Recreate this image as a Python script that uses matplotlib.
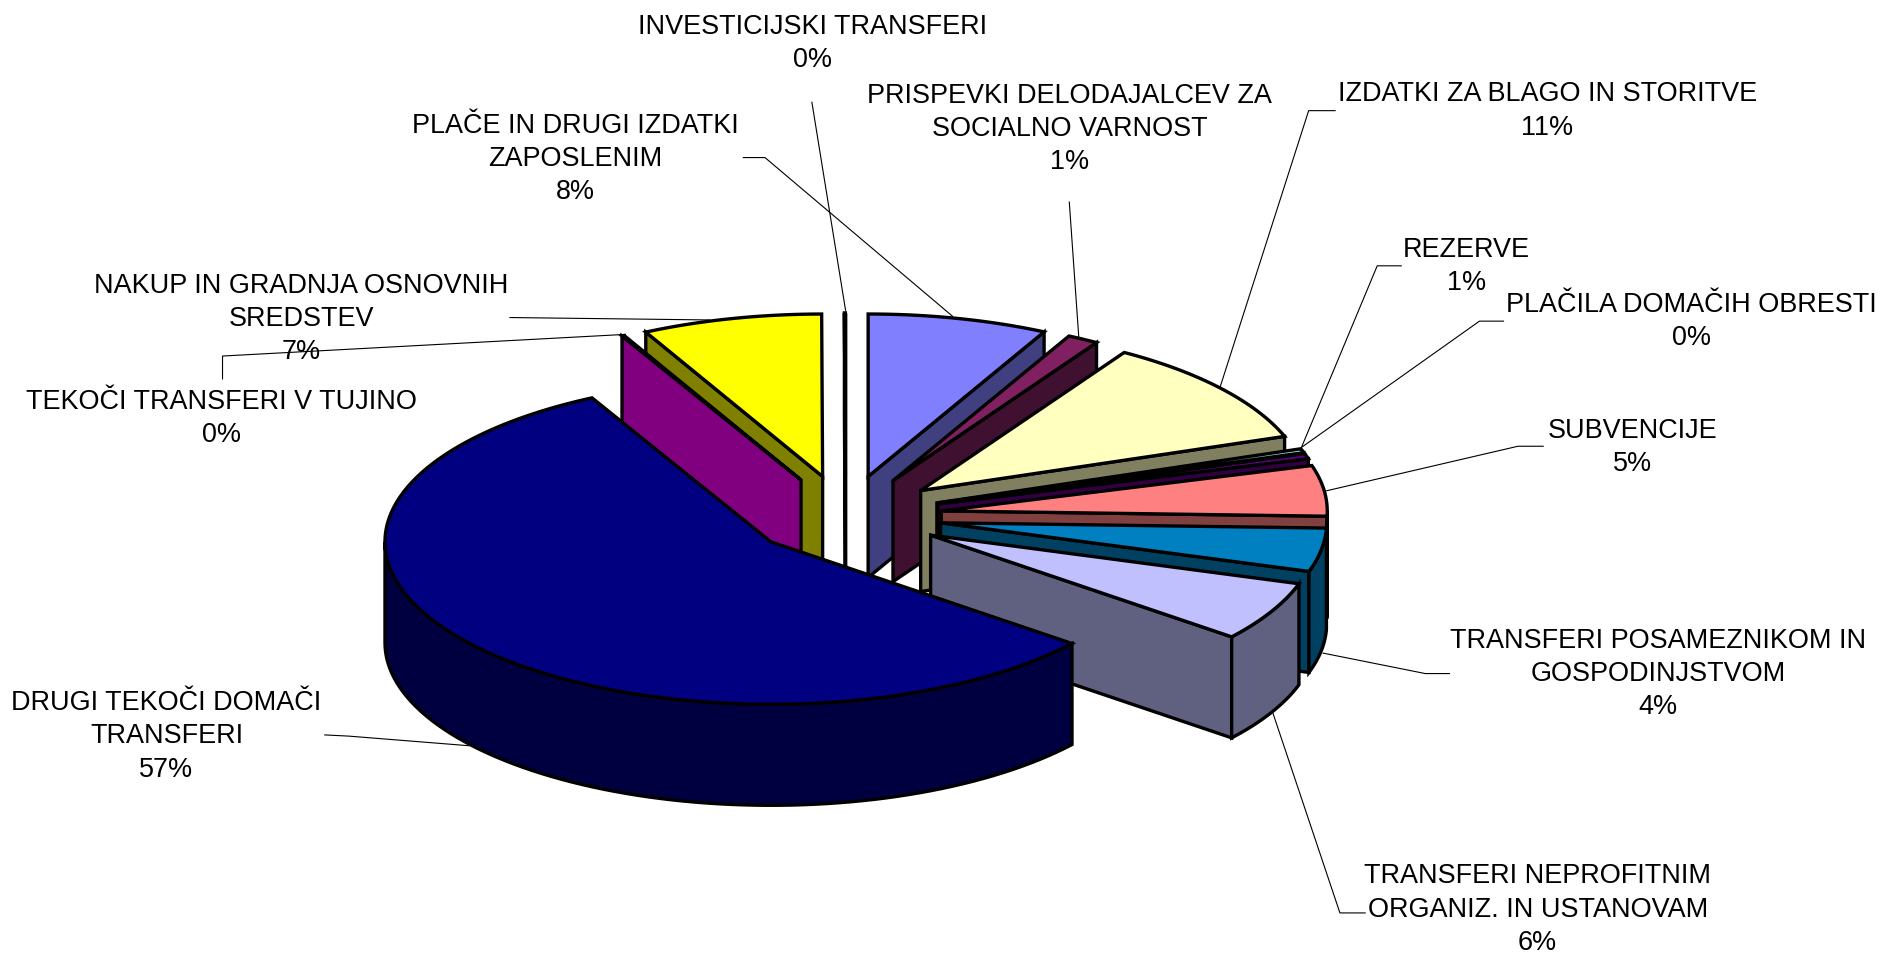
import numpy as np
import matplotlib
matplotlib.use("Agg")
import matplotlib.pyplot as plt
from matplotlib.patches import Polygon

plt.rcParams['font.family'] = ['Liberation Sans', 'DejaVu Sans']

labels = ["PLAČE IN DRUGI IZDATKI\nZAPOSLENIM\n8%",
          "PRISPEVKI DELODAJALCEV ZA\nSOCIALNO VARNOST\n1%",
          "IZDATKI ZA BLAGO IN STORITVE\n11%",
          "REZERVE\n1%",
          "PLAČILA DOMAČIH OBRESTI\n0%",
          "SUBVENCIJE\n5%",
          "TRANSFERI POSAMEZNIKOM IN\nGOSPODINJSTVOM\n4%",
          "TRANSFERI NEPROFITNIM\nORGANIZ. IN USTANOVAM\n6%",
          "DRUGI TEKOČI DOMAČI\nTRANSFERI\n57%",
          "TEKOČI TRANSFERI V TUJINO\n0%",
          "NAKUP IN GRADNJA OSNOVNIH\nSREDSTEV\n7%",
          "INVESTICIJSKI TRANSFERI\n0%"]
values = [7.5, 1.3, 10.7, 0.4, 0.5, 5.0, 4.3, 5.9, 56.3, 0.1, 7.5, 0.04]
top_colors = ["#8080FF", "#802060", "#FFFFC0", "#A0E0E0", "#600080", "#FF8080",
              "#0080C0", "#C0C0FF", "#000080", "#FF00FF", "#FFFF00", "#00FFFF"]
side_colors = ["#404080", "#401030", "#808060", "#507070", "#300040", "#804040",
               "#004060", "#606080", "#000040", "#800080", "#808000", "#008080"]

# layout (figure pixels)
S = 1886 / 1568
CX, CY, RX, RY, DEPTH, EXPLODE = 845.5, 516, 386, 162.5, 101, 0.25
LW = 2.4

label_pos = [(478, 131), (889, 106), (1286, 91), (1219, 220), (1406, 266), (1357, 371),
             (1378, 559), (1278, 755), (138, 611), (184, 347), (250, 264), (675, 35)]
leaders = [[(618, 131), (636, 131), (792, 263)],
           [(889, 168), (897, 282)],
           [(1110, 92), (1088, 92), (1014, 323)],
           [(1165, 221), (1145, 221), (1082, 372)],
           [(1250, 267), (1230, 267), (1082, 372)],
           [(1283, 371), (1262, 371), (1103, 408)],
           [(1205, 560), (1185, 560), (1100, 543)],
           [(1135, 759), (1114, 759), (1058, 592)],
           [(270, 611), (290, 612), (390, 620)],
           [(185, 315), (185, 296), (520, 278)],
           [(424, 264), (590, 266)],
           [(675, 85), (703, 258)]]
draw_order = [11, 10, 9, 0, 1, 2, 3, 4, 5, 6, 7, 8]

fig = plt.figure(figsize=(18.86, 9.56), dpi=100, facecolor="white")
ax = fig.add_axes([0, 0, 1, 1])
ax.set_xlim(0, 1886)
ax.set_ylim(956, 0)
ax.axis("off")

vals = np.array(values, float)
edges = np.concatenate([[0], np.cumsum(vals)]) / vals.sum() * 2 * np.pi


def pt(t, ox, oy, dz=0.0):
    return np.column_stack([ox + RX * np.sin(t), oy - RY * np.cos(t) + dz])


def face(xy, color, z):
    ax.add_patch(Polygon(xy, closed=True, facecolor=color, edgecolor="black",
                         linewidth=LW, joinstyle="miter", zorder=z))


for rank, i in enumerate(draw_order):
    t0, t1 = edges[i], edges[i + 1]
    tm = (t0 + t1) / 2
    ox = CX + EXPLODE * RX * np.sin(tm)
    oy = CY - EXPLODE * RY * np.cos(tm)
    z = 2 + rank
    apex = np.array([[ox, oy]])
    apex_low = np.array([[ox, oy + DEPTH]])
    for t, visible in ((t0, np.sin(t0) < 0), (t1, np.sin(t1) > 0)):
        if visible:
            a = pt(np.array([t]), ox, oy)
            b = pt(np.array([t]), ox, oy, DEPTH)
            face(np.vstack([apex, a, b, apex_low]), side_colors[i], z)
    lo, hi = max(t0, np.pi / 2), min(t1, 3 * np.pi / 2)
    if hi > lo:
        arc = np.linspace(lo, hi, 80)
        face(np.vstack([pt(arc, ox, oy), pt(arc[::-1], ox, oy, DEPTH)]), side_colors[i], z)
    arc = np.linspace(t0, t1, max(4, int((t1 - t0) * 60)))
    face(np.vstack([apex, pt(arc, ox, oy)]), top_colors[i], z)

for pts in leaders:
    p = np.array(pts, float) * S
    ax.plot(p[:, 0], p[:, 1], color="black", lw=0.8, zorder=1, solid_joinstyle="miter")

for lab, (x, y) in zip(labels, label_pos):
    ax.text(x * S + 0.5, y * S + 1.5, lab, ha="center", va="center", fontsize=19.45,
            linespacing=1.36, color="black", zorder=20)

fig.savefig("out.png", dpi=100, facecolor="white")
